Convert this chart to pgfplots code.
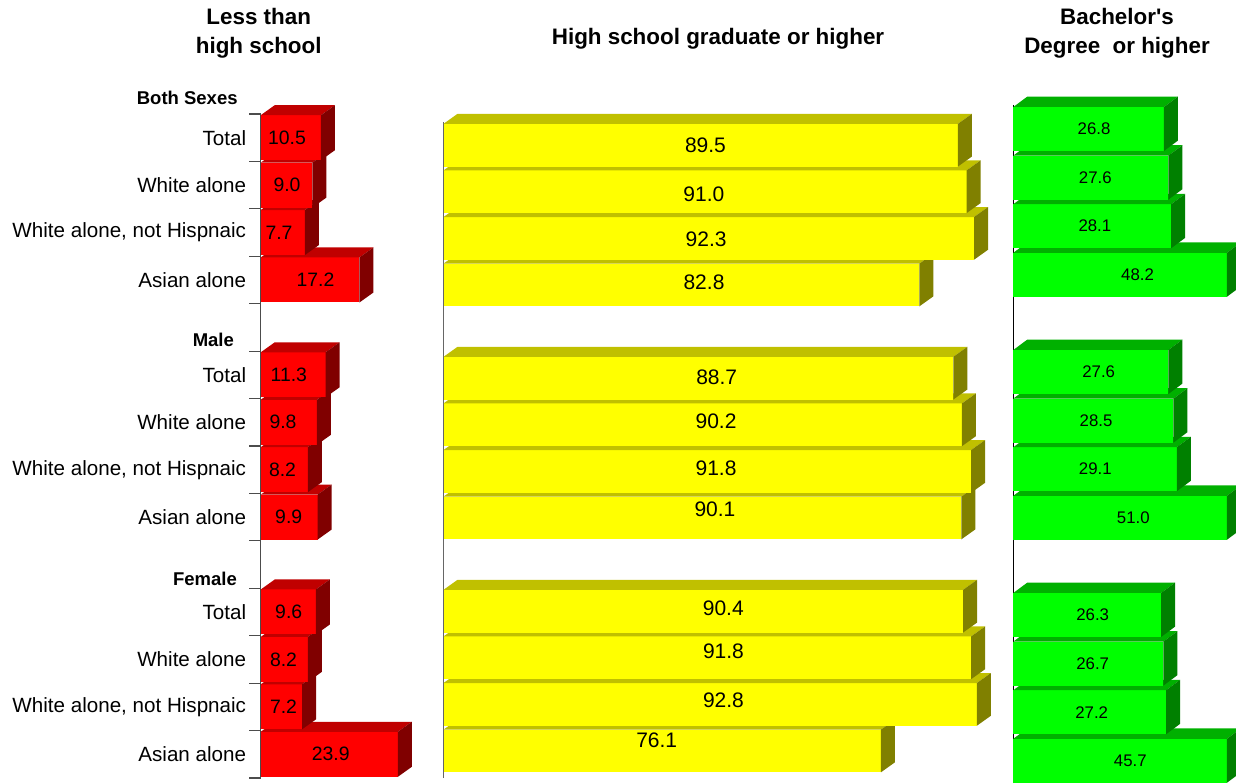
\documentclass[border=0pt]{standalone}
\usepackage{fontspec}
\setmainfont{Liberation Sans}
\usepackage{pgfplots}
\pgfplotsset{compat=1.18}
\usepackage{pgfplotstable}

% face colours of the extruded bars
\definecolor{redfront}{RGB}{255,0,0}
\definecolor{redtop}{RGB}{192,0,0}
\definecolor{redside}{RGB}{128,0,0}
\definecolor{yelfront}{RGB}{255,255,0}
\definecolor{yeltop}{RGB}{192,192,0}
\definecolor{yelside}{RGB}{128,128,0}
\definecolor{grnfront}{RGB}{0,255,0}
\definecolor{grntop}{RGB}{0,176,0}
\definecolor{grnside}{RGB}{0,128,0}

% y = row slot (0 = bottom row), v = percent, lx/ly = where the value label sits
\pgfplotstableread{
y  v     lx
0  23.9  12.21
1  7.2   3.97
2  8.2   3.97
3  9.6   4.88
5  9.9   4.88
6  8.2   3.80
7  9.8   3.89
8  11.3  4.90
10 17.2  9.55
11 7.7   3.19
12 9.0   4.58
13 10.5  4.58
}\lesstab

\pgfplotstableread{
y  v     lx     ly
0  76.1  37.09  0.22
1  92.8  48.71  1.08
2  91.8  48.71  2.15
3  90.4  48.68  3.06
5  90.1  47.23  5.19
6  91.8  47.41  6.07
7  90.2  47.41  7.07
8  88.7  47.53  8.01
10 82.8  45.32  10.06
11 92.3  45.69  10.99
12 91.0  45.29  11.95
13 89.5  45.57  12.99
}\hstab

\pgfplotstableread{
y  v     lx
0  45.7  20.82
1  27.2  13.95
2  26.7  14.13
3  26.3  14.13
5  51.0  21.35
6  29.1  14.59
7  28.5  14.72
8  27.6  15.20
10 48.2  22.10
11 28.1  14.51
12 27.6  14.59
13 26.8  14.36
}\batab

% A bar drawn as a box: front face, top face and side face.
% The mark sits at the bar's end; the bar runs back to x = 0.
% Bars longer than \bCap are cut there, with the side face at the cut.
\pgfdeclareplotmark{bar3d}{%
  \pgfmathsetlengthmacro\bXl{-(\barval)*\bUnit}%
  \pgfmathsetlengthmacro\bXr{-((\barval)-min(\barval,\bCap))*\bUnit}%
  \pgfmathsetlengthmacro\bXlD{\bXl+\bDx}%
  \pgfmathsetlengthmacro\bXrD{\bXr+\bDx}%
  \pgfmathsetlengthmacro\bHd{\bH+\bDy}%
  \pgfmathsetlengthmacro\bLd{-\bH+\bDy}%
  \pgfpathrectanglecorners{\pgfpoint{\bXl}{-\bH}}{\pgfpoint{\bXr}{\bH}}%
  \pgfsetfillcolor{\bFrontC}\pgfusepath{fill}%
  \pgfpathmoveto{\pgfpoint{\bXl}{\bH}}%
  \pgfpathlineto{\pgfpoint{\bXlD}{\bHd}}%
  \pgfpathlineto{\pgfpoint{\bXrD}{\bHd}}%
  \pgfpathlineto{\pgfpoint{\bXr}{\bH}}%
  \pgfpathclose
  \pgfsetfillcolor{\bTopC}\pgfusepath{fill}%
  \pgfpathmoveto{\pgfpoint{\bXr}{\bH}}%
  \pgfpathlineto{\pgfpoint{\bXrD}{\bHd}}%
  \pgfpathlineto{\pgfpoint{\bXrD}{\bLd}}%
  \pgfpathlineto{\pgfpoint{\bXr}{-\bH}}%
  \pgfpathclose
  \pgfsetfillcolor{\bSideC}\pgfusepath{fill}%
}

\newcommand\titlefont{\fontsize{11.2}{14}\selectfont\bfseries}
\newcommand\headfont{\fontsize{9.25}{11}\selectfont\bfseries}

\pgfplotsset{
  panel/.style={
    anchor=south west,
    enlargelimits=false,
    clip=false,
    hide x axis,
    axis y line*=left,
    axis line style={-},
    y axis line style={-, line width=0.6pt},
    every outer y axis line/.append style={-},
    ytick=\empty,
  },
  bar3d plot/.style={
    scatter, only marks, mark=bar3d,
    scatter/@pre marker code/.code={},
    scatter/@post marker code/.code={},
    visualization depends on={rawx\as\barval},
  },
  value labels/.style={
    draw=none, mark=none, nodes near coords,
    point meta=explicit symbolic,
    every node near coord/.append style={anchor=center, inner sep=0pt,
      text=black, font=\fontsize{#1}{#1}\selectfont},
  },
}

\begin{document}
\begin{tikzpicture}

% ---------------- Less than high school ----------------
\def\bUnit{2.87pt}\def\bCap{1000}\def\bH{11.25pt}\def\bDx{7pt}\def\bDy{5pt}%
\def\bFrontC{redfront}\def\bTopC{redtop}\def\bSideC{redside}%
\begin{axis}[panel,
  at={(130.35pt,2.5pt)},
  x=2.87pt, y=23.715pt,
  xmin=0, xmax=25, ymin=-0.5, ymax=13.5,
  y axis line style={draw=black!70},
  ytick={0,1,2,3,5,6,7,8,10,11,12,13},
  yticklabels={Asian alone,{White alone, not Hispnaic},White alone,Total,
               Asian alone,{White alone, not Hispnaic},White alone,Total,
               Asian alone,{White alone, not Hispnaic},White alone,Total},
  minor ytick={-0.5,0.5,...,13.5},
  tick align=outside,
  major tick style={draw=none},
  minor tick length=5.7pt,
  minor tick style={draw=black!70, line width=0.6pt},
  yticklabel style={font=\fontsize{10.3}{12}\selectfont, text=black,
                    inner sep=0pt, anchor=east, xshift=-2.85pt},
]
\addplot[bar3d plot] table[x=v, y=y] {\lesstab};
\addplot[value labels=9.7] table[x=lx, y=y, meta=v] {\lesstab};
\end{axis}

% ---------------- High school graduate or higher ----------------
\def\bUnit{2.874pt}\def\bCap{1000}\def\bH{10.675pt}\def\bDx{7pt}\def\bDy{5pt}%
\def\bFrontC{yelfront}\def\bTopC{yeltop}\def\bSideC{yelside}%
\begin{axis}[panel,
  at={(221.75pt,2.5pt)},
  x=2.874pt, y=23.3pt,
  xmin=0, xmax=100, ymin=-0.58, ymax=13.5,
  y axis line style={draw=black!60},
]
\addplot[bar3d plot] table[x=v, y=y] {\hstab};
\addplot[value labels=10.5] table[x=lx, y=ly, meta=v] {\hstab};
\end{axis}

% ---------------- Bachelor's degree or higher ----------------
\def\bUnit{2.81pt}\def\bCap{38}\def\bH{11pt}\def\bDx{7pt}\def\bDy{5.2pt}%
\def\bFrontC{grnfront}\def\bTopC{grntop}\def\bSideC{grnside}%
\begin{axis}[panel,
  at={(506.65pt,0pt)},
  x=2.81pt, y=24.3pt,
  xmin=0, xmax=38, ymin=-0.457, ymax=13.49,
  y axis line style={draw=black},
]
\addplot[bar3d plot] table[x=v, y=y] {\batab};
\addplot[value labels=8.4] table[x=lx, y=y, meta=v] {\batab};
\end{axis}

% panel titles
\node[anchor=base, inner sep=0pt, font=\titlefont] at (129.35pt,379pt) {Less than};
\node[anchor=base, inner sep=0pt, font=\titlefont] at (129.35pt,364.85pt) {high school};
\node[anchor=base, inner sep=0pt, font=\titlefont] at (359pt,369.35pt) {High school graduate or higher};
\node[anchor=base, inner sep=0pt, font=\titlefont] at (558.5pt,379pt) {Bachelor\textquotesingle s};
\node[anchor=base, inner sep=0pt, font=\titlefont] at (558.5pt,364.85pt) {Degree~ or higher};

% group headings
\node[anchor=base east, inner sep=0pt, font=\headfont] at (119pt,339pt) {Both Sexes};
\node[anchor=base east, inner sep=0pt, font=\headfont] at (117.15pt,218.15pt) {Male};
\node[anchor=base east, inner sep=0pt, font=\headfont] at (118.65pt,98.65pt) {Female};

\pgfresetboundingbox
\path[use as bounding box] (0,0) rectangle (618pt,391.5pt);
\end{tikzpicture}
\end{document}
